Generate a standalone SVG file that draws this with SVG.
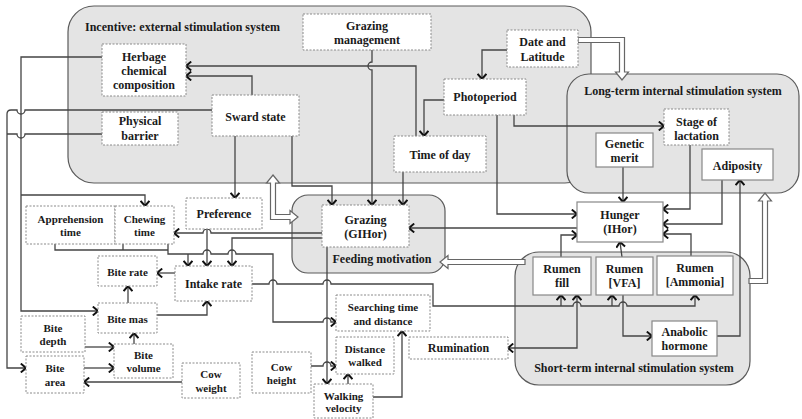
<svg xmlns="http://www.w3.org/2000/svg" width="802" height="419" viewBox="0 0 802 419">
<style>
.sys{fill:#e4e4e4;stroke:#5a5a5a;stroke-width:1.2}
.st{font-family:"Liberation Serif","Times New Roman",serif;font-weight:bold;font-size:12px;fill:#1a1a1a}
.c{fill:none;stroke:#444;stroke-width:1.3}
.ar{marker-end:url(#a)}
.hol{fill:#fff;stroke:#666;stroke-width:1.2}
.nd{fill:#fff;stroke:#8a8a8a;stroke-width:1;stroke-dasharray:2 1.5}
.ns{fill:#fff;stroke:#888;stroke-width:1.2}
.t{font-family:"Liberation Serif","Times New Roman",serif;font-weight:bold;font-size:12px;fill:#1a1a1a;text-anchor:middle}
.s{font-size:11px}
</style>
<defs>
<marker id="a" viewBox="0 0 10 10" refX="9.2" refY="5" markerWidth="10" markerHeight="10" markerUnits="userSpaceOnUse" orient="auto-start-reverse">
<path d="M4,0.6 L9.2,5 L4,9.4" fill="none" stroke="#111" stroke-width="2"/>
</marker>
</defs>

<g id="systems">
<g id="external"><rect class="sys" x="68" y="6" width="523" height="177" rx="26"/><text class="st" x="85" y="31">Incentive: external stimulation system</text></g>
<g id="longterm"><rect class="sys" x="567" y="74" width="232" height="119" rx="22"/><text class="st" x="683" y="95" text-anchor="middle">Long-term internal stimulation system</text></g>
<g id="feeding"><rect class="sys" x="292" y="195" width="153" height="78" rx="16"/><text class="st" x="382" y="263" text-anchor="middle">Feeding motivation</text></g>
<g id="shortterm"><rect class="sys" x="515" y="252" width="235" height="133" rx="24"/><text class="st" x="634" y="372" text-anchor="middle">Short-term internal stimulation system</text></g>
</g>

<g id="connectors">
<path class="c ar" d="M372,50 V62 a4,4 0 0,0 0,8 V205"/>
<path class="c ar" d="M416,136 V66 H186"/>
<path class="c ar" d="M252,95 V76 H186"/>
<path class="c ar" d="M235,136 V198"/>
<path class="c ar" d="M292,136 V186 H332 V205"/>
<path class="c ar" d="M403,172 V205"/>
<path class="c ar" d="M507,50 H482 V79"/>
<path class="c ar" d="M444,100 H424 V136"/>
<path class="c ar" d="M514,115 V126 H664"/>
<path class="c ar" d="M497,115 V214 H577"/>
<path class="c ar" d="M623,167 V202"/>
<path class="c ar" d="M690,145 V209 H663"/>
<path class="c ar" d="M722,180 V224 H663"/>
<path class="c ar" d="M691,256 V234 H663"/>
<path class="c ar" d="M561,257 V235 H577"/>
<path class="c ar" d="M622,257 L620,242"/>
<path class="c ar" d="M577,228 H409"/>
<path class="c ar" d="M717,336 H740 V180"/>
<path class="c ar" d="M252,284 H269 a4,4 0 0,1 8,0 H323 a4,4 0 0,1 8,0 H433 V306 H573 a4,4 0 0,1 8,0 H619 a4,4 0 0,1 8,0 H695 V295"/>
<path class="c ar" d="M561,306 V295"/>
<path class="c ar" d="M612,306 V295"/>
<path class="c ar" d="M508,348 H577 V295" marker-start="url(#a)"/>
<path class="c ar" d="M623,295 V336 H652"/>
<path class="c ar" d="M207,229 V266"/>
<path class="c ar" d="M322,233 H211 a4,4 0 0,0 -8,0 H174"/>
<path class="c ar" d="M322,238 H232 V266"/>
<path class="c" d="M55,244 V250 H168 M123,244 V250"/>
<path class="c ar" d="M168,244 V254 H203 a4,4 0 0,1 8,0 H228 a4,4 0 0,1 8,0 H273 V322 H323 a4,4 0 0,1 8,0 H336"/>
<path class="c ar" d="M188,254 V266"/>
<path class="c ar" d="M327,247 V384"/>
<path class="c ar" d="M311,366 H323 a4,4 0 0,1 8,0 H336"/>
<path class="c ar" d="M348,384 V374"/>
<path class="c ar" d="M373,397 H402 V331"/>
<path class="c ar" d="M175,273 H157"/>
<path class="c ar" d="M128,303 V286"/>
<path class="c ar" d="M157,315 H207 V301"/>
<path class="c ar" d="M134,344 V333"/>
<path class="c ar" d="M85,347 H114"/>
<path class="c ar" d="M84,368 H114"/>
<path class="c ar" d="M182,382 H84"/>
<path class="c ar" d="M102,57 H21 V311 H98"/>
<path class="c ar" d="M21,195 H145 V206"/>
<path class="c ar" d="M212,110 H25 a4,4 0 0,1 -8,0 H11 Q7,110 7,114 V368 H26"/>
<path class="c" d="M102,134 H25 a4,4 0 0,1 -8,0 H7"/>
<polygon class="hol" points="578,37.5 624.5,37.5 624.5,72 628.5,72 622,80 615.5,72 619.5,72 619.5,42.5 578,42.5"/>
<polygon class="hol" points="749,283.5 767.5,283.5 767.5,201 771.5,201 765,193 758.5,201 762.5,201 762.5,278.5 749,278.5"/>
<polygon class="hol" points="525,259.5 448,259.5 448,255.5 440,262 448,268.5 448,264.5 525,264.5"/>
<polygon class="hol" points="273,175 279.5,183 275.5,183 275.5,214.5 290,214.5 290,210.5 298,217 290,223.5 290,219.5 270.5,219.5 270.5,183 266.5,183"/>
</g>

<g id="n-grazing-management"><rect class="nd" x="303" y="14" width="128" height="36"/><text class="t" x="367" y="30">Grazing</text><text class="t" x="367" y="44">management</text></g>
<g id="n-date-latitude"><rect class="nd" x="507" y="30" width="71" height="37"/><text class="t" x="542.5" y="46">Date and</text><text class="t" x="542.5" y="61">Latitude</text></g>
<g id="n-herbage"><rect class="nd" x="102" y="44" width="84" height="52"/><text class="t" x="144" y="61">Herbage</text><text class="t" x="144" y="75">chemical</text><text class="t" x="144" y="89">composition</text></g>
<g id="n-physical-barrier"><rect class="nd" x="102" y="112" width="76" height="33"/><text class="t" x="140" y="125">Physical</text><text class="t" x="140" y="140">barrier</text></g>
<g id="n-sward-state"><rect class="nd" x="212" y="95" width="87" height="41"/><text class="t" x="255.5" y="121">Sward state</text></g>
<g id="n-photoperiod"><rect class="nd" x="444" y="79" width="82" height="36"/><text class="t" x="485" y="101">Photoperiod</text></g>
<g id="n-time-of-day"><rect class="nd" x="394" y="136" width="92" height="36"/><text class="t" x="440" y="159">Time of day</text></g>
<g id="n-stage-lactation"><rect class="nd" x="664" y="109" width="65" height="36"/><text class="t" x="696.5" y="126">Stage of</text><text class="t" x="696.5" y="140">lactation</text></g>
<g id="n-genetic-merit"><rect class="ns" x="596" y="133" width="57" height="34"/><text class="t" x="624.5" y="148">Genetic</text><text class="t" x="624.5" y="162">merit</text></g>
<g id="n-adiposity"><rect class="ns" x="702" y="149" width="71" height="31"/><text class="t" x="737.5" y="170">Adiposity</text></g>
<g id="n-hunger"><rect class="ns" x="577" y="202" width="86" height="40"/><text class="t" x="620" y="219">Hunger</text><text class="t" x="620" y="233">(IHor)</text></g>
<g id="n-rumen-fill"><rect class="ns" x="533" y="257" width="58" height="38"/><text class="t" x="562" y="273">Rumen</text><text class="t" x="562" y="287">fill</text></g>
<g id="n-rumen-vfa"><rect class="ns" x="596" y="257" width="57" height="38"/><text class="t" x="624.5" y="273">Rumen</text><text class="t" x="624.5" y="287">[VFA]</text></g>
<g id="n-rumen-ammonia"><rect class="ns" x="657" y="256" width="76" height="39"/><text class="t" x="695" y="272">Rumen</text><text class="t" x="695" y="286">[Ammonia]</text></g>
<g id="n-anabolic"><rect class="ns" x="652" y="321" width="65" height="35"/><text class="t" x="684.5" y="336">Anabolic</text><text class="t" x="684.5" y="350">hormone</text></g>
<g id="n-preference"><rect class="nd" x="186" y="198" width="76" height="31"/><text class="t" x="224" y="218">Preference</text></g>
<g id="n-grazing"><rect class="nd" x="322" y="205" width="87" height="42"/><text class="t" x="365.5" y="224">Grazing</text><text class="t" x="365.5" y="238">(GIHor)</text></g>
<g id="n-apprehension"><rect class="nd" x="26" y="206" width="89" height="38"/><text class="t s" x="70.5" y="222.5">Apprehension</text><text class="t s" x="70.5" y="236">time</text></g>
<g id="n-chewing"><rect class="nd" x="115" y="206" width="59" height="38"/><text class="t s" x="144.5" y="222.5">Chewing</text><text class="t s" x="144.5" y="236">time</text></g>
<g id="n-bite-rate"><rect class="nd" x="98" y="256" width="59" height="30"/><text class="t s" x="127.5" y="275.5">Bite rate</text></g>
<g id="n-intake-rate"><rect class="nd" x="175" y="266" width="77" height="35"/><text class="t" x="213.5" y="288">Intake rate</text></g>
<g id="n-bite-mas"><rect class="nd" x="98" y="303" width="59" height="30"/><text class="t s" x="127.5" y="322.5">Bite mas</text></g>
<g id="n-bite-depth"><rect class="nd" x="21" y="316" width="64" height="36"/><text class="t s" x="53" y="331.5">Bite</text><text class="t s" x="53" y="344.5">depth</text></g>
<g id="n-bite-volume"><rect class="nd" x="114" y="344" width="59" height="34"/><text class="t s" x="143.5" y="358.5">Bite</text><text class="t s" x="143.5" y="371.5">volume</text></g>
<g id="n-bite-area"><rect class="nd" x="26" y="356" width="58" height="37"/><text class="t s" x="55" y="371.5">Bite</text><text class="t s" x="55" y="385.5">area</text></g>
<g id="n-cow-weight"><rect class="nd" x="182" y="363" width="58" height="35"/><text class="t s" x="211" y="377.5">Cow</text><text class="t s" x="211" y="391.5">weight</text></g>
<g id="n-cow-height"><rect class="nd" x="252" y="352" width="59" height="41"/><text class="t s" x="281.5" y="370.5">Cow</text><text class="t s" x="281.5" y="383.5">height</text></g>
<g id="n-searching"><rect class="nd" x="336" y="295" width="94" height="36"/><text class="t s" x="383" y="310.5">Searching time</text><text class="t s" x="383" y="324.5">and distance</text></g>
<g id="n-distance-walked"><rect class="nd" x="336" y="337" width="58" height="37"/><text class="t s" x="365" y="352.5">Distance</text><text class="t s" x="365" y="365.5">walked</text></g>
<g id="n-walking-velocity"><rect class="nd" x="314" y="384" width="59" height="34"/><text class="t s" x="343.5" y="399.5">Walking</text><text class="t s" x="343.5" y="411.5">velocity</text></g>
<g id="n-rumination"><rect class="nd" x="409" y="337" width="99" height="22"/><text class="t" x="458.5" y="352">Rumination</text></g>
</svg>
